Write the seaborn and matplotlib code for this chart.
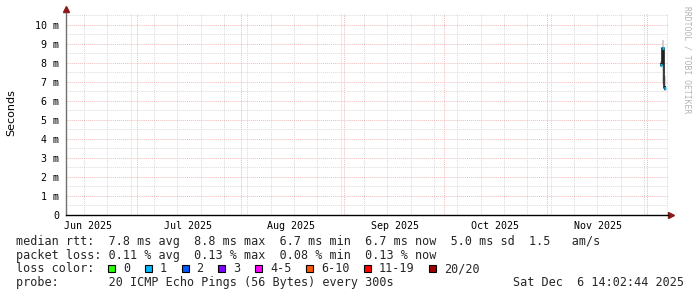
import numpy as np
import pandas as pd
import matplotlib
matplotlib.use("Agg")
import matplotlib.pyplot as plt
import matplotlib.dates as mdates
from matplotlib.patches import Rectangle
import seaborn as sns

# ---------------- data ----------------
sample_times = ["2025-12-05 04:00", "2025-12-05 14:00", "2025-12-06 06:00"]
median_ms = [7.9, 8.8, 6.7]
smoke_lo_ms = [7.8, 6.9, 6.5]
smoke_hi_ms = [8.1, 9.2, 7.3]
dense_lo_ms = [7.85, 7.9, 6.6]
dense_hi_ms = [8.0, 8.8, 6.8]

month_labels = ["Jun 2025", "Jul 2025", "Aug 2025", "Sep 2025", "Oct 2025", "Nov 2025"]
month_label_dates = ["2025-06-16 06:00", "2025-07-16 06:00", "2025-08-16 06:00",
                     "2025-09-16 06:00", "2025-10-16 06:00", "2025-11-16 06:00"]
month_starts = ["2025-07-01", "2025-08-01", "2025-09-01", "2025-10-01", "2025-11-01", "2025-12-01"]

y_ticks = [0, 1, 2, 3, 4, 5, 6, 7, 8, 9, 10]
y_tick_labels = ["0", "1 m", "2 m", "3 m", "4 m", "5 m", "6 m", "7 m", "8 m", "9 m", "10 m"]

loss_labels = ["0", "1", "2", "3", "4-5", "6-10", "11-19", "20/20"]
loss_colors = ["#26ff00", "#00b8ff", "#0059ff", "#7e00ff", "#ff00ff", "#ff5500", "#ff0000", "#a10000"]

line_rtt = "median rtt:  7.8 ms avg  8.8 ms max  6.7 ms min  6.7 ms now  5.0 ms sd  1.5   am/s"
line_loss = "packet loss: 0.11 % avg  0.13 % max  0.08 % min  0.13 % now"
line_color_title = "loss color:"
line_probe = "probe:       20 ICMP Echo Pings (56 Bytes) every 300s"
date_stamp = "Sat Dec  6 14:02:44 2025"

# ---------------- figure ----------------
sns.set_style("white")
plt.rcParams["font.family"] = ["DejaVu Sans"]
MONO = "DejaVu Sans Mono"

W, H = 697, 297
fig = plt.figure(figsize=(W / 100, H / 100), dpi=100)
fig.patch.set_facecolor("white")
L, R, T, B = 66, 668, 13, 215
ax = fig.add_axes([L / W, 1 - B / H, (R - L) / W, (B - T) / H])
ax.set_facecolor("white")

df = pd.DataFrame({
    "time": pd.to_datetime(sample_times),
    "median": median_ms,
    "lo": smoke_lo_ms,
    "hi": smoke_hi_ms,
    "dlo": dense_lo_ms,
    "dhi": dense_hi_ms,
})

xmin = pd.Timestamp("2025-06-09 14:38")
xmax = pd.Timestamp("2025-12-07 04:48")
ax.set_xlim(xmin, xmax)
ax.set_ylim(0, 10.63)

# grid
grey = "#dadada"
redg = "#f0bcbc"
dot = (0, (1, 1))
ax.yaxis.set_major_locator(matplotlib.ticker.FixedLocator(y_ticks))
ax.yaxis.set_minor_locator(matplotlib.ticker.MultipleLocator(0.5))
ax.xaxis.set_minor_locator(mdates.WeekdayLocator(byweekday=mdates.SU))
ax.set_xticks(pd.to_datetime(month_label_dates))
ax.set_xticklabels(month_labels)
ax.grid(False)
ax.grid(which="minor", axis="both", color=grey, linestyle=dot, linewidth=0.7)
for ms in pd.to_datetime(month_starts):
    ax.axvline(ms, color=redg, linestyle=dot, linewidth=0.7, zorder=1)
for yv in y_ticks[1:]:
    ax.axhline(yv, color=redg, linestyle=dot, linewidth=0.7, zorder=1)
ax.set_yticklabels(y_tick_labels)

# smoke
w = 0.6
ax.bar(df["time"], df["hi"] - df["lo"], bottom=df["lo"], width=w, color="#d0d0d0", zorder=2, linewidth=0)
ax.bar(df["time"], df["dhi"] - df["dlo"], bottom=df["dlo"], width=w, color="#303030", zorder=3, linewidth=0)
# median
sns.lineplot(data=df, x="time", y="median", ax=ax, drawstyle="steps-mid", color="#202020",
             linewidth=1.2, zorder=4)
ax.hlines(df["median"], df["time"] - pd.Timedelta(hours=7), df["time"] + pd.Timedelta(hours=7),
          color=loss_colors[1], linewidth=2.2, zorder=5)
ax.set_xlabel("")
ax.set_ylabel("")

# axes styling
for s in ["top", "right"]:
    ax.spines[s].set_visible(False)
ax.spines["left"].set_color("#707070")
ax.spines["left"].set_linewidth(1.0)
ax.spines["bottom"].set_color("#000000")
ax.spines["bottom"].set_linewidth(1.0)
ax.tick_params(axis="y", which="major", length=3, width=0.8, color="#a0a0a0", pad=2,
               labelsize=7.2, labelcolor="#000000")
ax.tick_params(axis="y", which="minor", length=0)
ax.tick_params(axis="x", which="both", length=0, pad=4, labelsize=7.2, labelcolor="#000000")
for lab in ax.get_xticklabels() + ax.get_yticklabels():
    lab.set_family(MONO)

# arrows
arrow_c = "#8b1a1a"
ax.plot([0, 0], [1, 1 + 4 / (B - T)], transform=ax.transAxes, clip_on=False, color="#707070", lw=1.0)
ax.plot([0], [1 + 4 / (B - T)], marker="^", markersize=4.5, color=arrow_c, transform=ax.transAxes, clip_on=False)
ax.plot([1, 1 + 2 / (R - L)], [0, 0], transform=ax.transAxes, clip_on=False, color="#000000", lw=1.0)
ax.plot([1 + 3 / (R - L)], [0], marker=">", markersize=4.5, color=arrow_c, transform=ax.transAxes, clip_on=False)

# axis label and credits
fig.text(11 / W, 1 - 113 / H, "Seconds", rotation=90, ha="center", va="center", fontsize=8, color="#000000")
fig.text(687 / W, 1 - 60 / H, "RRDTOOL / TOBI OETIKER", rotation=270, ha="center", va="center",
         fontsize=5.8, color="#b4b4b4", family=MONO)

# legend text
FS = 8.5
CW = 7.12
def fy(py):
    return 1 - py / H

fig.text(16 / W, fy(241.7), line_rtt, family=MONO, fontsize=FS, va="center", ha="left")
fig.text(16 / W, fy(255.3), line_loss, family=MONO, fontsize=FS, va="center", ha="left")
fig.text(16 / W, fy(269), line_color_title, family=MONO, fontsize=FS, va="center", ha="left")
fig.text(16 / W, fy(282.7), line_probe, family=MONO, fontsize=FS, va="center", ha="left")
fig.text(513 / W, fy(282.7), date_stamp, family=MONO, fontsize=FS, va="center", ha="left")

bx = 108.3
for lab, col in zip(loss_labels, loss_colors):
    fig.add_artist(Rectangle((bx / W, fy(272)), 7 / W, 7 / H, transform=fig.transFigure,
                             facecolor=col, edgecolor="#000000", linewidth=0.8))
    tx = bx + 14.7
    fig.text(tx / W, fy(269), lab, family=MONO, fontsize=FS, va="center", ha="left")
    bx = tx + len(lab) * CW + 14.9

fig.savefig("out.png", dpi=100, facecolor="white")
